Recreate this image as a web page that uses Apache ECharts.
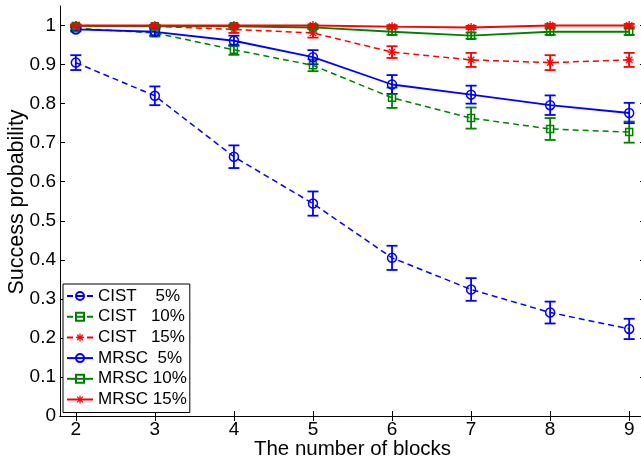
<!DOCTYPE html>
<html>
<head>
<meta charset="utf-8">
<script src="https://cdn.jsdelivr.net/npm/echarts@6/dist/echarts.min.js"></script>
<style>
  html, body { margin: 0; padding: 0; background: #fff; }
  #chart { width: 641px; height: 464px; }
</style>
</head>
<body>
<div id="chart"></div>
<script>
// Number of blocks on the x axis
const blocks = [2, 3, 4, 5, 6, 7, 8, 9];

// Mean success probability and error-bar half widths per method / loss rate
const cist5      = [0.905, 0.820, 0.664, 0.544, 0.405, 0.324, 0.265, 0.223];
const cist5Err   = [0.019, 0.024, 0.029, 0.031, 0.031, 0.029, 0.028, 0.026];
const cist10     = [0.993, 0.981, 0.938, 0.898, 0.815, 0.763, 0.735, 0.727];
const cist10Err  = [0.005, 0.009, 0.013, 0.015, 0.026, 0.027, 0.028, 0.027];
const cist15     = [1.000, 0.998, 0.990, 0.981, 0.932, 0.912, 0.905, 0.912];
const cist15Err  = [0.003, 0.004, 0.009, 0.012, 0.015, 0.018, 0.019, 0.018];
const mrsc5      = [0.990, 0.984, 0.961, 0.919, 0.849, 0.823, 0.796, 0.776];
const mrsc5Err   = [0.005, 0.009, 0.013, 0.018, 0.024, 0.023, 0.025, 0.026];
const mrsc10     = [0.999, 0.998, 0.998, 0.995, 0.984, 0.974, 0.984, 0.984];
const mrsc10Err  = [0.002, 0.003, 0.003, 0.004, 0.008, 0.008, 0.008, 0.008];
const mrsc15     = [1.000, 1.000, 1.000, 1.000, 0.997, 0.995, 1.000, 1.000];
const mrsc15Err  = [0.002, 0.002, 0.003, 0.003, 0.004, 0.004, 0.004, 0.004];

// Axis tick values
const xTicks = [2, 3, 4, 5, 6, 7, 8, 9];
const yTicks = [0, 0.1, 0.2, 0.3, 0.4, 0.5, 0.6, 0.7, 0.8, 0.9, 1];

const FONT = '"Liberation Sans", Arial, Helvetica, sans-serif';
const BLUE = '#0000ff';
const GREEN = '#008000';
const RED = '#ff0000';

// Eight-armed asterisk marker
const STAR = 'path://M0 8.5L20 8.5L20 11.5L0 11.5Z M8.5 0L11.5 0L11.5 20L8.5 20Z ' +
  'M3.99 1.87L18.13 16.01L16.01 18.13L1.87 3.99Z M16.01 1.87L18.13 3.99L3.99 18.13L1.87 16.01Z';

function lineSeries(name, values, color, dashed, marker) {
  const s = {
    type: 'line',
    name: name,
    data: blocks.map((b, i) => [b, values[i]]),
    lineStyle: { color: color, width: dashed ? 1.5 : 1.8, type: dashed ? [6, 4] : 'solid' },
    z: 4,
    emphasis: { disabled: true },
    silent: true
  };
  if (marker === 'circle') {
    s.symbol = 'circle';
    s.symbolSize = 9;
    s.itemStyle = { color: 'transparent', borderColor: color, borderWidth: 1.5 };
  } else if (marker === 'square') {
    s.symbol = 'rect';
    s.symbolSize = 7;
    s.itemStyle = { color: 'transparent', borderColor: color, borderWidth: 1.5 };
  } else {
    s.symbol = STAR;
    s.symbolSize = 9;
    s.itemStyle = { color: color, borderWidth: 0 };
  }
  return s;
}

function errorSeries(values, errs, color) {
  return {
    type: 'custom',
    data: blocks.map((b, i) => [b, values[i] - errs[i], values[i] + errs[i]]),
    encode: { x: 0, y: [1, 2] },
    z: 3,
    silent: true,
    renderItem: function (params, api) {
      const x = api.value(0);
      const lo = api.coord([x, api.value(1)]);
      const hi = api.coord([x, api.value(2)]);
      const hw = 5.5;
      const style = { stroke: color, lineWidth: 1.8, fill: null };
      return {
        type: 'group',
        children: [
          { type: 'line', shape: { x1: lo[0], y1: lo[1], x2: hi[0], y2: hi[1] }, style: style },
          { type: 'line', shape: { x1: lo[0] - hw, y1: lo[1], x2: lo[0] + hw, y2: lo[1] }, style: style },
          { type: 'line', shape: { x1: hi[0] - hw, y1: hi[1], x2: hi[0] + hw, y2: hi[1] }, style: style }
        ]
      };
    }
  };
}

const names = ['CIST    5%', 'CIST   10%', 'CIST   15%', 'MRSC  5%', 'MRSC 10%', 'MRSC 15%'];

const axisLineStyle = { show: true, lineStyle: { color: '#000', width: 1 } };

const option = {
  animation: false,
  backgroundColor: '#fff',
  grid: { left: 60, top: 6, right: -4, bottom: 48, outerBoundsMode: 'none', containLabel: false },
  legend: {
    data: names,
    orient: 'vertical',
    left: 63,
    top: 284,
    itemWidth: 26,
    itemHeight: 10,
    itemGap: 0.7,
    padding: [2, 3, 3, 3],
    borderColor: '#000',
    borderWidth: 1,
    backgroundColor: '#fff',
    selectedMode: false,
    textStyle: { fontFamily: FONT, fontSize: 17, color: '#000', lineHeight: 20 }
  },
  xAxis: [
    {
      type: 'value', min: 1.8, max: 9.2, position: 'bottom',
      name: 'The number of blocks', nameLocation: 'middle', nameGap: 23, nameMoveOverlap: false,
      nameTextStyle: { fontFamily: FONT, fontSize: 20.5, color: '#000' },
      axisLine: axisLineStyle,
      axisTick: { show: true, inside: true, length: 5, customValues: xTicks, lineStyle: { color: '#000' } },
      axisLabel: { customValues: xTicks, fontFamily: FONT, fontSize: 19, color: '#000', margin: 4 },
      splitLine: { show: false }
    },
    {
      type: 'value', min: 1.8, max: 9.2, position: 'top',
      axisLine: axisLineStyle,
      axisTick: { show: true, inside: true, length: 5, customValues: xTicks, lineStyle: { color: '#000' } },
      axisLabel: { show: false },
      splitLine: { show: false }
    }
  ],
  yAxis: [
    {
      type: 'value', min: 0, max: 1.05, position: 'left',
      name: 'Success probability', nameLocation: 'middle', nameGap: 32, nameMoveOverlap: false,
      nameTextStyle: { fontFamily: FONT, fontSize: 21.5, color: '#000', padding: [0, 0, 0, 18] },
      axisLine: axisLineStyle,
      axisTick: { show: true, inside: true, length: 5, customValues: yTicks, lineStyle: { color: '#000' } },
      axisLabel: {
        customValues: yTicks, fontFamily: FONT, fontSize: 19, color: '#000', margin: 4,
        formatter: v => String(+v.toFixed(1))
      },
      splitLine: { show: false }
    },
    {
      type: 'value', min: 0, max: 1.05, position: 'right',
      axisLine: axisLineStyle,
      axisTick: { show: true, inside: true, length: 5, customValues: yTicks, lineStyle: { color: '#000' } },
      axisLabel: { show: false },
      splitLine: { show: false }
    }
  ],
  series: [
    errorSeries(cist5, cist5Err, BLUE),
    errorSeries(cist10, cist10Err, GREEN),
    errorSeries(cist15, cist15Err, RED),
    errorSeries(mrsc5, mrsc5Err, BLUE),
    errorSeries(mrsc10, mrsc10Err, GREEN),
    errorSeries(mrsc15, mrsc15Err, RED),
    lineSeries(names[0], cist5, BLUE, true, 'circle'),
    lineSeries(names[1], cist10, GREEN, true, 'square'),
    lineSeries(names[2], cist15, RED, true, 'star'),
    lineSeries(names[3], mrsc5, BLUE, false, 'circle'),
    lineSeries(names[4], mrsc10, GREEN, false, 'square'),
    lineSeries(names[5], mrsc15, RED, false, 'star')
  ]
};

const chart = echarts.init(document.getElementById('chart'), null, { renderer: 'canvas' });
chart.setOption(option);
</script>
</body>
</html>
